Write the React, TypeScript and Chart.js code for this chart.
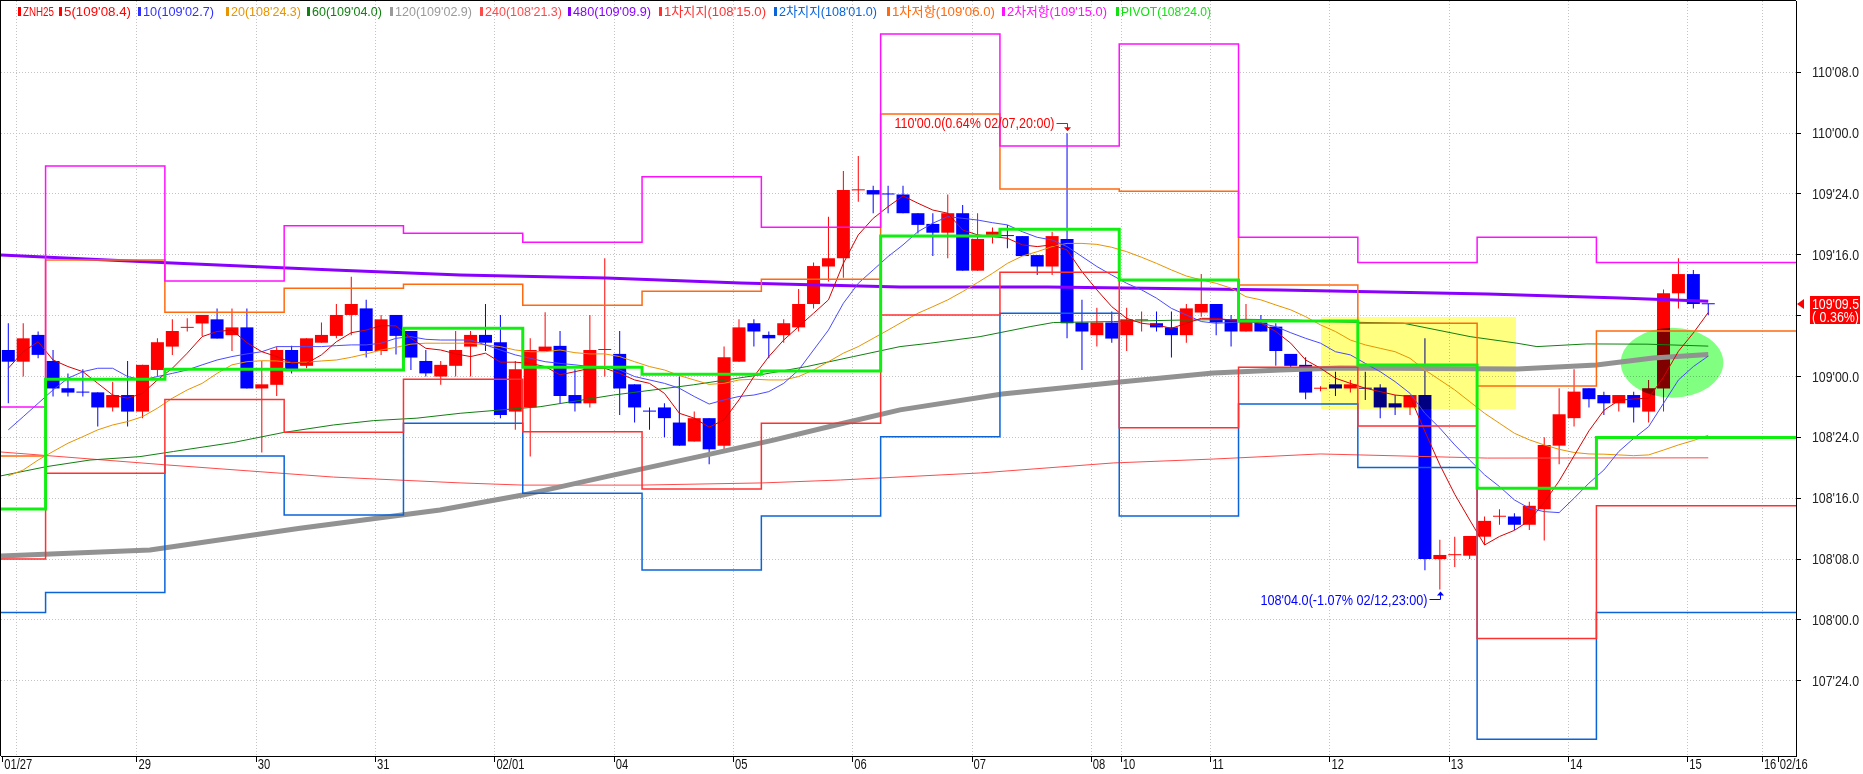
import React, { useEffect, useRef } from "react";
import { Chart, registerables } from "chart.js";
Chart.register(...registerables);

const W = 1863;
const H = 774;

// ---------- candles (3-hour bars), values in points ----------
const openP = [109.109, 109.061, 109.171, 109.064, 108.952, 108.935, 108.935, 108.873, 108.924, 108.856,
  109.027, 109.123, 109.200, 109.218, 109.235, 109.170, 109.202, 108.951, 108.966, 109.109,
  109.044, 109.139, 109.167, 109.253, 109.280, 109.105, 109.253, 109.187, 109.064, 109.000,
  109.044, 109.123, 109.171, 109.141, 108.856, 108.873, 109.105, 109.126, 108.924, 108.890,
  109.109, 109.093, 108.968, 108.857, 108.873, 108.811, 108.733, 108.829, 108.716, 109.061,
  109.219, 109.171, 109.170, 109.202, 109.298, 109.452, 109.486, 109.765, 109.766, 109.749,
  109.748, 109.671, 109.627, 109.591, 109.671, 109.435, 109.582, 109.578, 109.577, 109.499,
  109.452, 109.565, 109.222, 109.170, 109.222, 109.170, 109.231, 109.219, 109.202, 109.170,
  109.263, 109.298, 109.235, 109.185, 109.222, 109.205, 109.093, 109.048, 108.950, 108.968,
  108.951, 108.951, 108.955, 108.890, 108.873, 108.924, 108.250, 108.266, 108.264, 108.342,
  108.424, 108.425, 108.391, 108.455, 108.716, 108.829, 108.952, 108.924, 108.890, 108.924,
  108.856, 108.951, 109.342, 109.421, 109.298];
const highP = [109.219, 109.219, 109.185, 109.109, 109.013, 109.030, 108.935, 108.979, 109.064, 109.048,
  109.157, 109.235, 109.239, 109.253, 109.280, 109.280, 109.280, 109.064, 109.123, 109.126,
  109.157, 109.222, 109.298, 109.410, 109.315, 109.253, 109.253, 109.187, 109.109, 109.064,
  109.187, 109.187, 109.298, 109.253, 109.064, 109.157, 109.264, 109.187, 109.030, 109.253,
  109.486, 109.187, 108.968, 108.873, 108.890, 109.000, 108.856, 108.829, 109.123, 109.235,
  109.235, 109.185, 109.235, 109.360, 109.469, 109.657, 109.844, 109.906, 109.784, 109.784,
  109.784, 109.671, 109.671, 109.748, 109.705, 109.671, 109.612, 109.623, 109.577, 109.499,
  109.595, 110.000, 109.315, 109.283, 109.267, 109.283, 109.267, 109.267, 109.267, 109.298,
  109.421, 109.298, 109.253, 109.298, 109.253, 109.219, 109.093, 109.079, 108.960, 109.020,
  108.986, 109.020, 108.968, 108.924, 108.924, 109.157, 108.329, 108.342, 108.345, 108.425,
  108.455, 108.438, 108.486, 108.751, 108.952, 109.030, 108.952, 108.938, 108.924, 108.938,
  108.986, 109.358, 109.486, 109.438, 109.298];
const lowP = [108.890, 109.000, 109.075, 108.918, 108.918, 108.918, 108.795, 108.856, 108.795, 108.829,
  109.000, 109.089, 109.185, 109.167, 109.156, 109.105, 108.951, 108.688, 108.920, 109.013,
  109.034, 109.139, 109.157, 109.170, 109.078, 109.089, 109.091, 109.027, 109.000, 108.966,
  109.000, 109.000, 109.105, 108.829, 108.781, 108.671, 109.105, 108.890, 108.856, 108.873,
  109.000, 108.842, 108.811, 108.781, 108.751, 108.716, 108.733, 108.640, 108.701, 109.061,
  109.123, 109.075, 109.139, 109.185, 109.280, 109.390, 109.406, 109.718, 109.671, 109.671,
  109.671, 109.588, 109.495, 109.486, 109.435, 109.435, 109.547, 109.527, 109.495, 109.417,
  109.417, 109.157, 109.027, 109.123, 109.139, 109.105, 109.185, 109.185, 109.078, 109.139,
  109.246, 109.170, 109.123, 109.185, 109.185, 109.044, 109.027, 108.907, 108.940, 108.920,
  108.934, 108.904, 108.829, 108.842, 108.842, 108.204, 108.125, 108.217, 108.250, 108.308,
  108.391, 108.370, 108.370, 108.326, 108.640, 108.795, 108.873, 108.842, 108.856, 108.811,
  108.811, 108.856, 109.280, 109.280, 109.253];
const closeP = [109.061, 109.157, 109.089, 108.951, 108.934, 108.934, 108.873, 108.924, 108.856, 109.048,
  109.141, 109.187, 109.201, 109.253, 109.156, 109.202, 108.951, 108.968, 109.109, 109.027,
  109.157, 109.171, 109.253, 109.298, 109.105, 109.235, 109.167, 109.078, 109.013, 109.048,
  109.109, 109.171, 109.139, 108.842, 109.030, 109.109, 109.123, 108.920, 108.890, 109.109,
  109.110, 108.951, 108.873, 108.856, 108.829, 108.716, 108.829, 108.701, 109.079, 109.202,
  109.185, 109.157, 109.219, 109.298, 109.454, 109.486, 109.766, 109.766, 109.748, 109.748,
  109.671, 109.623, 109.591, 109.671, 109.435, 109.565, 109.595, 109.577, 109.495, 109.452,
  109.577, 109.219, 109.185, 109.222, 109.156, 109.235, 109.232, 109.202, 109.170, 109.280,
  109.298, 109.222, 109.185, 109.235, 109.185, 109.105, 109.044, 108.934, 108.951, 108.951,
  108.968, 108.950, 108.873, 108.873, 108.924, 108.250, 108.267, 108.267, 108.345, 108.407,
  108.425, 108.391, 108.469, 108.719, 108.845, 108.938, 108.907, 108.890, 108.924, 108.873,
  108.952, 109.342, 109.421, 109.298, 109.297];

// ---------- moving averages ----------
const ma5 = [109.034, 109.102, 109.143, 109.068, 109.041, 109.020, 108.972, 108.924, 108.911, 108.931,
  108.986, 109.034, 109.096, 109.164, 109.185, 109.191, 109.139, 109.102, 109.082, 109.057,
  109.054, 109.089, 109.143, 109.180, 109.191, 109.209, 109.208, 109.157, 109.116, 109.109,
  109.093, 109.082, 109.096, 109.059, 109.059, 109.054, 109.041, 109.007, 109.020, 109.034,
  109.034, 109.013, 108.986, 108.972, 108.931, 108.849, 108.829, 108.792, 108.822, 108.904,
  109.000, 109.082, 109.150, 109.205, 109.260, 109.315, 109.465, 109.582, 109.650, 109.698,
  109.742, 109.712, 109.684, 109.671, 109.602, 109.582, 109.575, 109.568, 109.541, 109.534,
  109.541, 109.520, 109.431, 109.356, 109.287, 109.239, 109.219, 109.212, 109.198, 109.219,
  109.239, 109.239, 109.232, 109.232, 109.219, 109.185, 109.137, 109.068, 109.034, 108.993,
  108.972, 108.952, 108.938, 108.924, 108.918, 108.774, 108.637, 108.516, 108.411, 108.308,
  108.343, 108.368, 108.408, 108.483, 108.571, 108.674, 108.777, 108.861, 108.902, 108.908,
  108.911, 108.998, 109.104, 109.179, 109.263];
const ma10 = [108.781, 108.835, 108.890, 108.945, 108.993, 109.020, 109.034, 109.034, 109.000, 108.986,
  109.000, 109.013, 109.027, 109.048, 109.068, 109.082, 109.093, 109.102, 109.123, 109.123,
  109.123, 109.123, 109.127, 109.130, 109.130, 109.137, 109.157, 109.164, 109.153, 109.150,
  109.150, 109.150, 109.130, 109.109, 109.089, 109.075, 109.061, 109.054, 109.048, 109.041,
  109.041, 109.027, 109.000, 108.986, 108.972, 108.952, 108.918, 108.887, 108.904, 108.918,
  108.924, 108.938, 108.972, 109.027, 109.109, 109.191, 109.301, 109.383, 109.438, 109.493,
  109.541, 109.595, 109.630, 109.657, 109.650, 109.643, 109.632, 109.623, 109.595, 109.572,
  109.561, 109.534, 109.493, 109.452, 109.417, 109.383, 109.356, 109.322, 109.280, 109.253,
  109.226, 109.219, 109.222, 109.226, 109.219, 109.205, 109.180, 109.157, 109.137, 109.102,
  109.089, 109.054, 109.020, 108.979, 108.931, 108.849, 108.788, 108.719, 108.657, 108.596,
  108.548, 108.493, 108.459, 108.445, 108.441, 108.500, 108.562, 108.616, 108.692, 108.746,
  108.794, 108.890, 108.986, 109.041, 109.084];
const ma20 = [108.592, 108.616, 108.657, 108.692, 108.726, 108.753, 108.781, 108.801, 108.815, 108.835,
  108.870, 108.911, 108.945, 108.972, 109.013, 109.048, 109.061, 109.065, 109.064, 109.057,
  109.059, 109.064, 109.068, 109.079, 109.093, 109.109, 109.120, 109.133, 109.137, 109.137,
  109.137, 109.137, 109.130, 109.123, 109.109, 109.102, 109.102, 109.109, 109.098, 109.093,
  109.093, 109.082, 109.061, 109.041, 109.027, 109.004, 108.986, 108.968, 108.972, 108.986,
  108.989, 108.986, 108.986, 109.000, 109.027, 109.061, 109.096, 109.123, 109.157, 109.191,
  109.226, 109.260, 109.287, 109.315, 109.349, 109.386, 109.424, 109.465, 109.495, 109.513,
  109.534, 109.547, 109.547, 109.543, 109.531, 109.513, 109.490, 109.465, 109.438, 109.413,
  109.397, 109.383, 109.363, 109.328, 109.315, 109.294, 109.274, 109.246, 109.212, 109.185,
  109.150, 109.130, 109.116, 109.102, 109.075, 109.027, 108.986, 108.945, 108.897, 108.849,
  108.808, 108.767, 108.740, 108.719, 108.701, 108.688, 108.682, 108.681, 108.678, 108.675,
  108.678, 108.698, 108.719, 108.737, 108.759];
const ma60X = [-0.49, 2.57, 5.48, 8.83, 11.07, 15.09, 18.44, 21.8, 24.5, 27.4, 30.3, 35.66, 40.58, 45.94, 50.41, 53.55, 56.67, 59.8, 61.82, 65.17, 68.52, 70.09, 74.11, 78.58, 83.06, 86.41, 87.97, 93.56, 98.03, 101.17, 102.51, 105.86, 109.89, 114];
const ma60Y = [108.592, 108.630, 108.657, 108.671, 108.692, 108.729, 108.770, 108.801, 108.819, 108.829, 108.849, 108.876, 108.924, 108.966, 109.007, 109.041, 109.082, 109.123, 109.137, 109.164, 109.205, 109.222, 109.226, 109.232, 109.235, 109.232, 109.226, 109.219, 109.164, 109.137, 109.123, 109.134, 109.133, 109.125];
const ma120X = [-0.49, 9.5, 19.56, 28.95, 34.5, 40.1, 46.84, 51.31, 55.78, 59.8, 66.65, 74.56, 80.8, 85.3, 89.3, 101.2, 106.5, 110.3, 114];
const ma120Y = [108.263, 108.287, 108.377, 108.452, 108.513, 108.589, 108.678, 108.739, 108.805, 108.863, 108.928, 108.978, 109.015, 109.027, 109.035, 109.031, 109.047, 109.076, 109.091];
const ma240X = [-0.49, 10.6, 21.8, 30.3, 34.5, 42.4, 50.6, 55.8, 65.2, 74.1, 80.8, 87.97, 99.2, 114];
const ma240Y = [108.690, 108.637, 108.587, 108.563, 108.554, 108.554, 108.563, 108.575, 108.604, 108.645, 108.661, 108.682, 108.665, 108.666];
const ma480X = [-0.49, 10.6, 21.8, 30.3, 40.1, 49.1, 59.8, 69.7, 85.3, 99.2, 108.1, 114];
const ma480Y = [109.499, 109.467, 109.438, 109.417, 109.405, 109.384, 109.368, 109.368, 109.356, 109.339, 109.323, 109.309];

// ---------- daily pivot levels ----------
const pivotEdges = [2.5, 10.5, 18.5, 26.5, 34.5, 42.5, 50.5, 58.5, 66.5, 74.5, 82.5, 90.5, 98.5, 106.5];
const r2Lv = [108.875, 109.865, 109.393, 109.620, 109.589, 109.552, 109.821, 109.613, 110.407, 109.947, 110.366, 109.572, 109.469, 109.572, 109.469];
const r1Lv = [108.674, 109.479, 109.264, 109.363, 109.379, 109.293, 109.350, 109.400, 110.079, 109.770, 109.761, 109.376, 109.219, 108.961, 109.1875];
const pvLv = [108.456, 108.989, 109.030, 109.027, 109.198, 109.038, 109.009, 109.023, 109.577, 109.605, 109.397, 109.228, 109.047, 108.541, 108.750];
const s1Lv = [108.250, 108.603, 108.906, 108.771, 108.989, 108.773, 108.538, 108.808, 109.253, 109.428, 108.790, 109.038, 108.797, 107.924, 108.469];
const s2Lv = [108.031, 108.113, 108.674, 108.431, 108.808, 108.520, 108.205, 108.427, 108.753, 109.260, 108.427, 108.887, 108.626, 107.510, 108.031];

// ---------- axes ----------
const dayStart = [0, 9, 17, 25, 33, 41, 49, 57, 65, 73, 75, 81, 89, 97, 105, 113, 118, 119.06];
const dayLabels = ["01/27", "29", "30", "31", "02/01", "04", "05", "06", "07", "08", "10", "11", "12", "13", "14", "15", "16", "02/16"];
const yTickVals = [107.75, 108.0, 108.25, 108.5, 108.75, 109.0, 109.25, 109.5, 109.75, 110.0, 110.25];

// ---------- legend / notes ----------
const legendTexts = ["ZNH25", "5(109'08.4)", "10(109'02.7)", "20(108'24.3)", "60(109'04.0)", "120(109'02.9)", "240(108'21.3)", "480(109'09.9)", "1차지지(108'15.0)", "2차지지(108'01.0)", "1차저항(109'06.0)", "2차저항(109'15.0)", "PIVOT(108'24.0)"];
const highNote = "110'00.0(0.64% 02/07,20:00)";
const lowNote = "108'04.0(-1.07% 02/12,23:00)";
const changeText = "( 0.36%)";
const hiliteX = [88.0, 101.1];
const hiliteY = [108.868, 109.246];
const ellipseC = [111.57, 109.057];
const ellipseR = [3.44, 0.1438];

// colors
const UP = "#ff0000";
const DOWN = "#0000ff";
const C_MA5 = "#d80000";
const C_MA10 = "#4a4aff";
const C_MA20 = "#e89400";
const C_MA60 = "#108010";
const C_MA120 = "#929292";
const C_MA240 = "#ff4a4a";
const C_MA480 = "#8a00ff";
const C_S1 = "#ff3030";
const C_S2 = "#0a64d8";
const C_R1 = "#ff6a10";
const C_R2 = "#ff10ff";
const C_PV = "#10f010";
const legendColors = ["#ff0000", "#ff0000", "#3030ff", "#e89400", "#108010", "#9a9a9a", "#ff4a4a", "#8a00ff", C_S1, C_S2, C_R1, C_R2, "#10e010"];
const legendX = [18, 59, 138, 226, 307, 390, 480, 568, 659, 774, 887, 1002, 1116];
const legendW = [31, 67, 71, 70, 70, 77, 77, 78, 102, 98, 103, 100, 90];

const X_MIN = -0.4895;
const X_MAX = 119.884;
const Y_MAX = 110.5429;
const Y_MIN = 107.441;
const FONT = "'Liberation Sans', Arial, 'Noto Sans CJK KR', sans-serif";

const fmt32 = (v: number) => {
  let ip = Math.floor(v + 1e-9);
  let t = Math.round((v - ip) * 320) / 10;
  if (t >= 32) { ip += 1; t -= 32; }
  return `${ip}'${t.toFixed(1).padStart(4, "0")}`;
};

const stepPoints = (levels: number[]) => {
  const edges = [X_MIN, ...pivotEdges, X_MAX];
  const pts: { x: number; y: number }[] = [];
  levels.forEach((lv, i) => {
    pts.push({ x: edges[i], y: lv }, { x: edges[i + 1], y: lv });
  });
  return pts;
};

const lineDS = (label: string, data: any[], color: string, width: number, order: number) => ({
  type: "line" as const,
  label,
  data,
  borderColor: color,
  backgroundColor: color,
  borderWidth: width,
  pointRadius: 0,
  tension: 0,
  fill: false,
  order,
});

// draw text with a horizontal squeeze (narrow, tall glyphs like the original)
const drawNarrow = (ctx: CanvasRenderingContext2D, text: string, x: number, y: number, size: number, opt: { sx?: number; width?: number; align?: string }) => {
  ctx.save();
  ctx.font = `${size}px ${FONT}`;
  ctx.textAlign = "left";
  ctx.textBaseline = "alphabetic";
  const nat = ctx.measureText(text).width;
  const sx = opt.width ? Math.min(1.1, opt.width / nat) : opt.sx ?? 1;
  const w = nat * sx;
  let x0 = x;
  if (opt.align === "right") x0 = x - w;
  else if (opt.align === "center") x0 = x - w / 2;
  ctx.translate(x0, y);
  ctx.scale(sx, 1);
  ctx.fillText(text, 0, 0);
  ctx.restore();
};

const overlayPlugin = {
  id: "overlays",
  beforeDraw(chart: any) {
    const { ctx } = chart;
    ctx.save();
    ctx.fillStyle = "#ffffff";
    ctx.fillRect(0, 0, chart.width, chart.height);
    ctx.restore();
  },
  beforeDatasetsDraw(chart: any) {
    // extra dotted grid line right of the first day tick
    const { ctx, chartArea: a, scales } = chart;
    const gx = Math.round(scales.x.getPixelForValue(0.52)) + 0.5;
    ctx.save();
    ctx.strokeStyle = "#c4c4c4";
    ctx.lineWidth = 1;
    ctx.setLineDash([1, 2]);
    ctx.beginPath();
    ctx.moveTo(gx, a.top);
    ctx.lineTo(gx, a.bottom);
    ctx.stroke();
    ctx.restore();
  },
  afterDatasetDraw(chart: any, args: any) {
    if (args.index !== 1) return;
    const { ctx, chartArea: a, scales } = chart;
    const x = scales.x, y = scales.y;
    ctx.save();
    ctx.beginPath();
    ctx.rect(a.left, a.top, a.right - a.left, a.bottom - a.top);
    ctx.clip();
    ctx.globalCompositeOperation = "multiply";
    const x0 = x.getPixelForValue(hiliteX[0]);
    const x1 = x.getPixelForValue(hiliteX[1]);
    const y0 = y.getPixelForValue(hiliteY[1]);
    const y1 = y.getPixelForValue(hiliteY[0]);
    ctx.fillStyle = "#ffff80";
    ctx.fillRect(Math.round(x0), Math.round(y0), Math.round(x1 - x0), Math.round(y1 - y0));
    const cx = x.getPixelForValue(ellipseC[0]);
    const cy = y.getPixelForValue(ellipseC[1]);
    const rx = Math.abs(x.getPixelForValue(ellipseC[0] + ellipseR[0]) - cx);
    const ry = Math.abs(y.getPixelForValue(ellipseC[1] + ellipseR[1]) - cy);
    ctx.fillStyle = "#80ff80";
    ctx.beginPath();
    ctx.ellipse(cx, cy, rx, ry, 0, 0, Math.PI * 2);
    ctx.fill();
    ctx.restore();
  },
  afterDraw(chart: any) {
    const { ctx, chartArea: a, scales } = chart;
    const x = scales.x, y = scales.y;
    ctx.save();
    // frame
    ctx.strokeStyle = "#000";
    ctx.lineWidth = 1;
    ctx.beginPath();
    ctx.moveTo(0, 0.5);
    ctx.lineTo(a.right, 0.5);
    ctx.moveTo(0.5, 0);
    ctx.lineTo(0.5, a.bottom);
    ctx.stroke();

    // x-axis day labels
    ctx.fillStyle = "#111";
    dayLabels.forEach((t, i) => {
      const px = x.getPixelForValue(dayStart[i] - 0.37);
      drawNarrow(ctx, t, px + 1.5, a.bottom + 12.5, 14, { sx: 0.8 });
    });

    // y-axis labels
    ctx.fillStyle = "#222";
    yTickVals.forEach((v) => {
      const py = y.getPixelForValue(v);
      drawNarrow(ctx, fmt32(v), a.right + 16, py + 5, 14, { width: 47 });
    });

    // legend
    legendTexts.forEach((t, i) => {
      const mx = legendX[i];
      ctx.fillStyle = legendColors[i];
      ctx.fillRect(mx, 7, 3, 9);
      drawNarrow(ctx, t, mx + 5, 15.5, 13, { width: legendW[i] });
    });

    // high / low notes
    const hiIdx = highP.indexOf(Math.max(...highP));
    const loIdx = lowP.indexOf(Math.min(...lowP));
    {
      const hx = Math.round(x.getPixelForValue(hiIdx)) + 0.5;
      const hy = y.getPixelForValue(highP[hiIdx]);
      const ty = Math.round(hy - 10) + 0.5;
      ctx.fillStyle = "#ff0000";
      ctx.strokeStyle = "#ff0000";
      drawNarrow(ctx, highNote, hx - 13, hy - 5, 15, { width: 160, align: "right" });
      ctx.beginPath();
      ctx.moveTo(hx - 11, ty);
      ctx.lineTo(hx, ty);
      ctx.lineTo(hx, hy - 5);
      ctx.stroke();
      ctx.beginPath();
      ctx.moveTo(hx - 3.5, hy - 6);
      ctx.lineTo(hx + 3.5, hy - 6);
      ctx.lineTo(hx, hy - 2);
      ctx.closePath();
      ctx.fill();
    }
    {
      const lx = Math.round(x.getPixelForValue(loIdx)) + 0.5;
      const ly = y.getPixelForValue(lowP[loIdx]);
      const ty = Math.round(ly + 9.5) + 0.5;
      ctx.fillStyle = "#0000ff";
      ctx.strokeStyle = "#0000ff";
      drawNarrow(ctx, lowNote, lx - 13, ly + 15, 15, { width: 167, align: "right" });
      ctx.beginPath();
      ctx.moveTo(lx - 11, ty);
      ctx.lineTo(lx, ty);
      ctx.lineTo(lx, ly + 5);
      ctx.stroke();
      ctx.beginPath();
      ctx.moveTo(lx - 3.5, ly + 6);
      ctx.lineTo(lx + 3.5, ly + 6);
      ctx.lineTo(lx, ly + 2);
      ctx.closePath();
      ctx.fill();
    }

    // last price tag
    const last = closeP[closeP.length - 1];
    const py = Math.round(y.getPixelForValue(last));
    ctx.fillStyle = "#ff0000";
    ctx.fillRect(a.right + 14, py - 8, 50, 28);
    ctx.beginPath();
    ctx.moveTo(a.right + 1, py);
    ctx.lineTo(a.right + 8, py - 5);
    ctx.lineTo(a.right + 8, py + 5);
    ctx.closePath();
    ctx.fill();
    ctx.fillStyle = "#ffffff";
    drawNarrow(ctx, fmt32(last), a.right + 16, py + 5, 14, { width: 47 });
    drawNarrow(ctx, changeText, a.right + 16, py + 18, 14, { width: 47 });
    ctx.restore();
  },
};

export default function App() {
  const ref = useRef<HTMLCanvasElement>(null);
  useEffect(() => {
    const canvas = ref.current;
    if (!canvas) return;
    const idx = openP.map((_, i) => i);
    const candleColor = idx.map((i) => (closeP[i] >= openP[i] ? UP : DOWN));
    const chart = new Chart(canvas, {
      type: "bar",
      data: {
        datasets: [
          {
            type: "bar",
            label: "wick",
            data: idx.map((i) => ({ x: i, y: [lowP[i], highP[i]] })) as any,
            backgroundColor: candleColor,
            borderWidth: 0,
            barThickness: 1,
            grouped: false,
            inflateAmount: 0,
            order: 20,
          } as any,
          {
            type: "bar",
            label: "body",
            data: idx.map((i) => ({ x: i, y: [openP[i], closeP[i]] })) as any,
            backgroundColor: candleColor,
            borderWidth: 0,
            barThickness: 13,
            minBarLength: 1,
            grouped: false,
            inflateAmount: 0,
            order: 19,
          } as any,
          lineDS("240", ma240X.map((v, i) => ({ x: v, y: ma240Y[i] })), C_MA240, 1, 16),
          lineDS("60", ma60X.map((v, i) => ({ x: v, y: ma60Y[i] })), C_MA60, 1, 15),
          lineDS("120", ma120X.map((v, i) => ({ x: v, y: ma120Y[i] })), C_MA120, 5, 14),
          lineDS("480", ma480X.map((v, i) => ({ x: v, y: ma480Y[i] })), C_MA480, 3, 13),
          lineDS("20", ma20.map((v, i) => ({ x: i, y: v })), C_MA20, 1, 12),
          lineDS("10", ma10.map((v, i) => ({ x: i, y: v })), C_MA10, 1, 11),
          lineDS("5", ma5.map((v, i) => ({ x: i, y: v })), C_MA5, 1, 10),
          lineDS("2차지지", stepPoints(s2Lv), C_S2, 1.5, 8),
          lineDS("1차지지", stepPoints(s1Lv), C_S1, 1.5, 7),
          lineDS("1차저항", stepPoints(r1Lv), C_R1, 1.5, 6),
          lineDS("2차저항", stepPoints(r2Lv), C_R2, 1.5, 5),
          lineDS("PIVOT", stepPoints(pvLv), C_PV, 3, 4),
        ] as any,
      },
      options: {
        responsive: false,
        maintainAspectRatio: false,
        devicePixelRatio: 1,
        animation: false,
        events: [],
        layout: { padding: { left: 1, top: 1, right: 0, bottom: 0 } },
        plugins: { legend: { display: false }, tooltip: { enabled: false } },
        scales: {
          x: {
            type: "linear",
            min: X_MIN,
            max: X_MAX,
            offset: false,
            position: "bottom",
            grid: {
              offset: false,
              color: (c: any) => (c.index === 0 || c.index === dayStart.length - 1 ? "rgba(0,0,0,0)" : "#c4c4c4"),
              tickColor: "#000",
              tickLength: 6,
              lineWidth: 1,
            },
            border: { display: true, color: "#000", width: 1, dash: [1, 2] },
            ticks: { display: false, autoSkip: false, maxRotation: 0, minRotation: 0 },
            afterBuildTicks: (s: any) => {
              s.ticks = dayStart.map((v) => ({ value: v - 0.37 }));
            },
            afterFit: (s: any) => {
              s.height = 18;
              s.paddingLeft = 0;
              s.paddingRight = 0;
            },
          } as any,
          y: {
            type: "linear",
            position: "right",
            min: Y_MIN,
            max: Y_MAX,
            grid: { color: "#c4c4c4", tickColor: "#000", tickLength: 5, lineWidth: 1 },
            border: { display: true, color: "#000", width: 1, dash: [1, 2] },
            ticks: { display: false },
            afterBuildTicks: (s: any) => {
              s.ticks = yTickVals.map((v) => ({ value: v }));
            },
            afterFit: (s: any) => {
              s.width = 67;
              s.paddingTop = 0;
              s.paddingBottom = 0;
            },
          } as any,
        },
      } as any,
      plugins: [overlayPlugin as any],
    });
    return () => chart.destroy();
  }, []);
  return (
    <div style={{ position: "fixed", left: 0, top: 0, width: W, height: H, background: "#fff" }}>
      <canvas ref={ref} width={W} height={H} style={{ display: "block", width: W, height: H }} />
    </div>
  );
}
